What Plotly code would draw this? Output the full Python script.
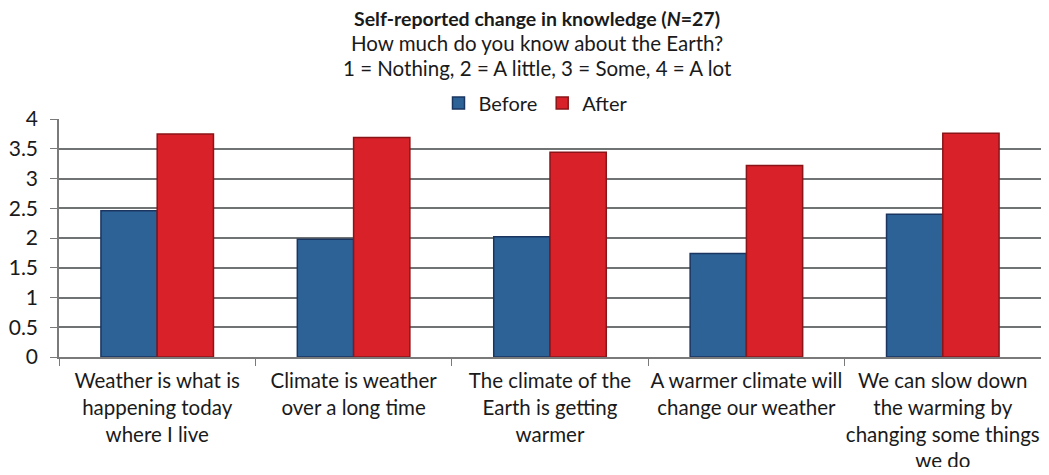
import plotly.graph_objects as go

categories = [
    "Weather is what is<br>happening today<br>where I live",
    "Climate is weather<br>over a long time",
    "The climate of the<br>Earth is getting<br>warmer",
    "A warmer climate will<br>change our weather",
    "We can slow down<br>the warming by<br>changing some things<br>we do",
]
before = [2.46, 1.98, 2.02, 1.74, 2.40]
after = [3.75, 3.69, 3.44, 3.22, 3.76]
y_ticks = [0, 0.5, 1, 1.5, 2, 2.5, 3, 3.5, 4]
y_labels = ["0", "0.5", "1", "1.5", "2", "2.5", "3", "3.5", "4"]

FONT = "Lato, 'Open Sans', sans-serif"
TXT = "#1a1a1a"

fig = go.Figure()
fig.add_trace(go.Bar(
    name="Before", x=categories, y=before,
    marker=dict(color="#2D6296", line=dict(color="#1A3560", width=1.5)),
))
fig.add_trace(go.Bar(
    name="After", x=categories, y=after,
    marker=dict(color="#D82128", line=dict(color="#8A1518", width=1.5)),
))

OFF = 8          # page body margin
W = 1049 - 2 * OFF
H = 475 - 2 * OFF
PT = 119 - OFF   # plot top in figure px
PH = 238         # plot height
PL = 59 - OFF    # plot left
PW = W - PL      # plot width (right edge at figure edge)


def ypix(py):
    """page pixel y (above plot) -> paper coordinate"""
    return 1 + (PT + OFF - py) / PH


def xpix(px):
    return (px - OFF - PL) / PW


fig.update_layout(
    width=W, height=H,
    margin=dict(l=PL, r=W - PL - PW, t=PT, b=H - PT - PH, autoexpand=False),
    paper_bgcolor="white", plot_bgcolor="white",
    barmode="group", bargap=0.427, bargroupgap=0,
    font=dict(family=FONT, size=20, color=TXT),
    showlegend=True,
    legend=dict(
        orientation="h", x=xpix(536), xanchor="center", y=ypix(103), yanchor="middle",
        font=dict(size=20, color=TXT), itemwidth=30, tracegroupgap=0,
        bgcolor="rgba(0,0,0,0)",
    ),
    xaxis=dict(
        showgrid=False, showline=True, linecolor="#7a7a7a", linewidth=1.5,
        ticks="outside", tickson="boundaries", ticklen=7, tickcolor="#7a7a7a",
        tickfont=dict(size=20.5, family=FONT, color=TXT), automargin=False,
        tickangle=0, ticklabelstandoff=5,
    ),
    yaxis=dict(
        range=[0, 4], tickvals=y_ticks, ticktext=y_labels,
        showgrid=True, gridcolor="#6f7374", gridwidth=1.5,
        showline=True, linecolor="#7a7a7a", linewidth=1.5,
        ticks="outside", ticklen=7, tickcolor="#7a7a7a",
        tickfont=dict(size=21, family=FONT, color=TXT),
        ticklabelstandoff=8, zeroline=False, automargin=False,
    ),
    annotations=[
        dict(text="<b>Self-reported change in knowledge (<i>N</i>=27)</b>",
             xref="paper", yref="paper", x=xpix(537), y=ypix(19),
             xanchor="center", yanchor="middle", showarrow=False,
             font=dict(size=19.5, family=FONT, color=TXT)),
        dict(text="How much do you know about the Earth?",
             xref="paper", yref="paper", x=xpix(537), y=ypix(43),
             xanchor="center", yanchor="middle", showarrow=False,
             font=dict(size=20.5, family=FONT, color=TXT)),
        dict(text="1 = Nothing, 2 = A little, 3 = Some, 4 = A lot",
             xref="paper", yref="paper", x=xpix(537), y=ypix(68),
             xanchor="center", yanchor="middle", showarrow=False,
             font=dict(size=20.5, family=FONT, color=TXT)),
    ],
)

fig.write_html("out.html")
